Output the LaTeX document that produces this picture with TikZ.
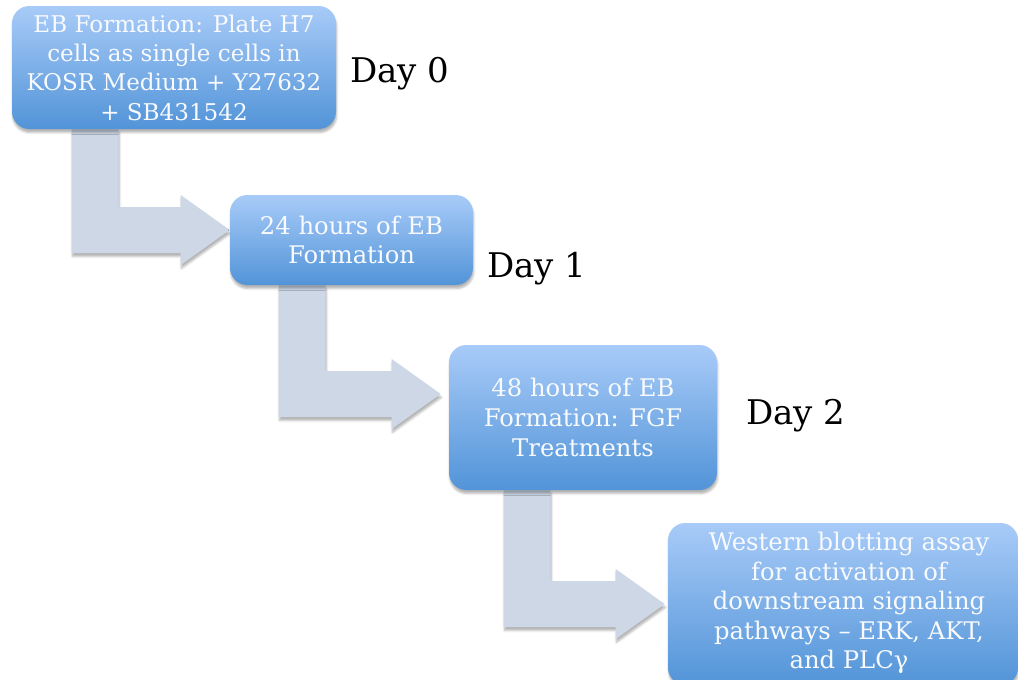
\documentclass[tikz,border=0pt]{standalone}
\usepackage{fontspec}
\setmainfont{DejaVu Serif}
\usetikzlibrary{calc,shadows.blur}
\definecolor{boxtop}{HTML}{A8CBF8}
\definecolor{boxbot}{HTML}{5294D8}
\definecolor{arrowc}{HTML}{CDD7E6}
\definecolor{txt}{HTML}{F8FAFD}
\pgfdeclarelayer{background}
\pgfsetlayers{background,main}
\tikzset{
  stepbox/.style={rounded corners=13pt, top color=boxtop, bottom color=boxbot, draw=none,
    text=txt, align=center, font=\fontsize{18.2}{22.2}\selectfont, inner sep=0pt,
    blur shadow={shadow xshift=0.5pt, shadow yshift=-2.6pt, shadow blur radius=1.6pt, shadow opacity=30}},
  boxtext/.style={text=txt, align=center, font=\fontsize{18.2}{22.2}\selectfont, inner sep=0pt},
  daylabel/.style={font=\fontsize{25.5}{30}\selectfont, anchor=base west, inner sep=0pt, text=black},
  bentarrow/.style={fill=arrowc, draw=none,
    blur shadow={shadow xshift=0.5pt, shadow yshift=-2.6pt, shadow blur radius=1.6pt, shadow opacity=30}},
}
\newcommand\bentarr[2]{%
  \fill[bentarrow] let \p1=#1, \p2=#2 in
   (\x1,\y1) -- (\x1+35.25pt,\y1) -- (\x1+35.25pt,\y2+17.25pt)
   -- (\x2-36.75pt,\y2+17.25pt) -- (\x2-36.75pt,\y2+26.25pt) -- (\x2,\y2)
   -- (\x2-36.75pt,\y2-26.25pt) -- (\x2-36.75pt,\y2-17.25pt) -- (\x1,\y2-17.25pt) -- cycle;}
\begin{document}
\begin{tikzpicture}[x=0.75pt,y=-0.75pt]
\useasboundingbox (0,0) rectangle (1018,679);

\node[stepbox, font=\fontsize{17.3}{22}\selectfont, minimum width=243pt, minimum height=92.25pt] (b1) at (174,67.5)
  {EB Formation: Plate H7\\cells as single cells in\\KOSR Medium + Y27632\\+ SB431542};
\node[stepbox, minimum width=182.25pt, minimum height=67.5pt] (b2) at (351.5,240)
  {24 hours of EB\\Formation};
\node[stepbox, minimum width=201pt, minimum height=108.75pt] (b3) at (583,417.5)
  {48 hours of EB\\Formation: FGF\\Treatments};
\node[stepbox, minimum width=262.5pt, minimum height=121.5pt] (b4) at (843,604) {};
\node[boxtext] (t4) at (849,603)
  {Western blotting assay\\for activation of\\downstream signaling\\pathways – ERK, AKT,\\and PLCγ};

\node[daylabel] (d0) at (350,82) {Day 0};
\node[daylabel] (d1) at (487,277) {Day 1};
\node[daylabel] (d2) at (746,424) {Day 2};

\begin{pgfonlayer}{background}
\bentarr{($(b1.south west)+(60,0)$)}{($(b2.west)+(0,-10)$)}
\bentarr{($(b2.south west)+(49,0)$)}{($(b3.west)+(-8,-23.5)$)}
\bentarr{($(b3.south west)+(55,0)$)}{($(b4.west)+(-3,0)$)}
\end{pgfonlayer}
\end{tikzpicture}
\end{document}
